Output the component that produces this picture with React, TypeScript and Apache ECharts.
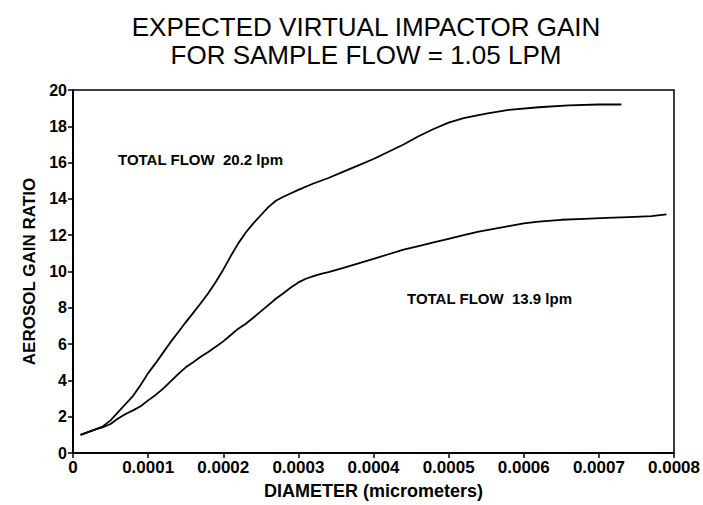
import React, { useEffect, useRef } from "react";
import * as echarts from "echarts";

const titleLines = ["EXPECTED VIRTUAL IMPACTOR GAIN", "FOR SAMPLE FLOW = 1.05 LPM"];
const xAxisName = "DIAMETER (micrometers)";
const yAxisName = "AEROSOL GAIN RATIO";
const label20 = "TOTAL FLOW  20.2 lpm";
const label139 = "TOTAL FLOW  13.9 lpm";

const yTicks = [0, 2, 4, 6, 8, 10, 12, 14, 16, 18, 20];
const xTickLabels = ["0", "0.0001", "0.0002", "0.0003", "0.0004", "0.0005", "0.0006", "0.0007", "0.0008"];

const flow20X = [
  0.00001, 0.00002, 0.00003, 0.00004, 0.00005, 0.00006, 0.00007, 0.00008, 0.00009, 0.0001,
  0.00011, 0.00012, 0.00013, 0.00014, 0.00015, 0.00016, 0.00017, 0.00018, 0.00019, 0.0002,
  0.00021, 0.00022, 0.00023, 0.00024, 0.00025, 0.00026, 0.00027, 0.00028, 0.0003, 0.00032,
  0.00034, 0.00036, 0.00038, 0.0004, 0.00042, 0.00044, 0.00046, 0.00048, 0.0005, 0.00052,
  0.00055, 0.00058, 0.00062, 0.00066, 0.0007, 0.00073,
];
const flow20Y = [
  1.0, 1.15, 1.3, 1.47, 1.8, 2.25, 2.7, 3.15, 3.75, 4.4,
  4.95, 5.53, 6.12, 6.65, 7.2, 7.72, 8.25, 8.8, 9.42, 10.1,
  10.85, 11.55, 12.15, 12.65, 13.1, 13.55, 13.9, 14.12, 14.5, 14.85,
  15.15, 15.5, 15.85, 16.2, 16.6, 17.0, 17.45, 17.85, 18.2, 18.45,
  18.7, 18.9, 19.05, 19.15, 19.2, 19.2,
];

const flow139X = [
  0.00001, 0.00002, 0.00003, 0.00004, 0.00005, 0.00006, 0.00007, 0.00008, 0.00009, 0.0001,
  0.00011, 0.00012, 0.00013, 0.00014, 0.00015, 0.00016, 0.00017, 0.00018, 0.00019, 0.0002,
  0.00021, 0.00022, 0.00023, 0.00024, 0.00025, 0.00026, 0.00027, 0.00028, 0.00029, 0.0003,
  0.00031, 0.00032, 0.00033, 0.00034, 0.00036, 0.00038, 0.0004, 0.00042, 0.00044, 0.00046,
  0.00048, 0.0005, 0.00052, 0.00054, 0.00056, 0.00058, 0.0006, 0.00062, 0.00065, 0.00068,
  0.00071, 0.00074, 0.00077, 0.00079,
];
const flow139Y = [
  1.0, 1.15, 1.3, 1.42, 1.6, 1.9, 2.15, 2.35, 2.58, 2.9,
  3.2, 3.55, 3.95, 4.35, 4.72, 5.0, 5.3, 5.57, 5.85, 6.15,
  6.5, 6.85, 7.12, 7.45, 7.8, 8.15, 8.5, 8.8, 9.12, 9.4,
  9.6, 9.75, 9.87, 9.97, 10.2, 10.45, 10.7, 10.95, 11.2, 11.4,
  11.6, 11.8, 12.0, 12.2, 12.35, 12.5, 12.65, 12.75, 12.85, 12.9,
  12.95, 13.0, 13.05, 13.15,
];

const FONT = "'Liberation Sans', Arial, Helvetica, sans-serif";

export default function App() {
  const ref = useRef<HTMLDivElement>(null);

  useEffect(() => {
    if (!ref.current) return;
    const chart = echarts.init(ref.current, undefined, { renderer: "svg" });
    const pairs = (xs: number[], ys: number[]) => xs.map((x, i) => [x, ys[i]]);
    const lineStyle = { color: "#000", width: 1.8 };

    chart.setOption({
      animation: false,
      backgroundColor: "#fff",
      textStyle: { fontFamily: FONT, color: "#000" },
      title: {
        text: titleLines.join("\n"),
        left: 361,
        top: 8,
        textAlign: "center",
        textStyle: {
          fontFamily: FONT,
          fontSize: 26,
          fontWeight: "normal",
          lineHeight: 28,
          color: "#000",
        },
      },
      grid: {
        left: 73,
        right: 29,
        top: 90,
        bottom: 48,
        show: true,
        borderColor: "#000",
        borderWidth: 1.5,
        containLabel: false,
      },
      xAxis: {
        type: "value",
        min: 0,
        max: 0.0008,
        interval: 0.0001,
        name: xAxisName,
        nameLocation: "middle",
        nameGap: 29,
        nameTextStyle: { fontFamily: FONT, fontSize: 18, fontWeight: "bold", color: "#000" },
        axisLine: { show: true, lineStyle: { color: "#000", width: 2 } },
        axisTick: { show: true, inside: false, length: 5, lineStyle: { color: "#000", width: 1.5 } },
        axisLabel: {
          fontFamily: FONT,
          fontSize: 17,
          fontWeight: "bold",
          color: "#000",
          margin: 6,
          showMaxLabel: true,
          formatter: (v: number) => xTickLabels[Math.round(v / 0.0001)] ?? "",
        },
        splitLine: { show: false },
      },
      yAxis: {
        type: "value",
        min: yTicks[0],
        max: yTicks[yTicks.length - 1],
        interval: 2,
        name: yAxisName,
        nameLocation: "middle",
        nameGap: 33,
        nameTextStyle: { fontFamily: FONT, fontSize: 17, fontWeight: "bold", color: "#000" },
        axisLine: { show: true, lineStyle: { color: "#000", width: 2 } },
        axisTick: { show: true, inside: false, length: 5, lineStyle: { color: "#000", width: 1.5 } },
        axisLabel: {
          fontFamily: FONT,
          fontSize: 16,
          fontWeight: "bold",
          color: "#000",
          margin: 6,
        },
        splitLine: { show: false },
      },
      series: [
        {
          name: "20.2 lpm",
          type: "line",
          data: pairs(flow20X, flow20Y),
          showSymbol: false,
          symbol: "none",
          lineStyle,
          smooth: false,
        },
        {
          name: "13.9 lpm",
          type: "line",
          data: pairs(flow139X, flow139Y),
          showSymbol: false,
          symbol: "none",
          lineStyle,
          smooth: false,
        },
      ],
      graphic: [
        {
          type: "text",
          left: 118,
          top: 152,
          style: {
            text: label20,
            fontFamily: FONT,
            fontSize: 15,
            fontWeight: "bold",
            fill: "#000",
          },
        },
        {
          type: "text",
          left: 407,
          top: 291,
          style: {
            text: label139,
            fontFamily: FONT,
            fontSize: 15,
            fontWeight: "bold",
            fill: "#000",
          },
        },
      ],
    });

    return () => chart.dispose();
  }, []);

  return <div ref={ref} style={{ width: 703, height: 505, position: "absolute", left: 0, top: 0 }} />;
}
